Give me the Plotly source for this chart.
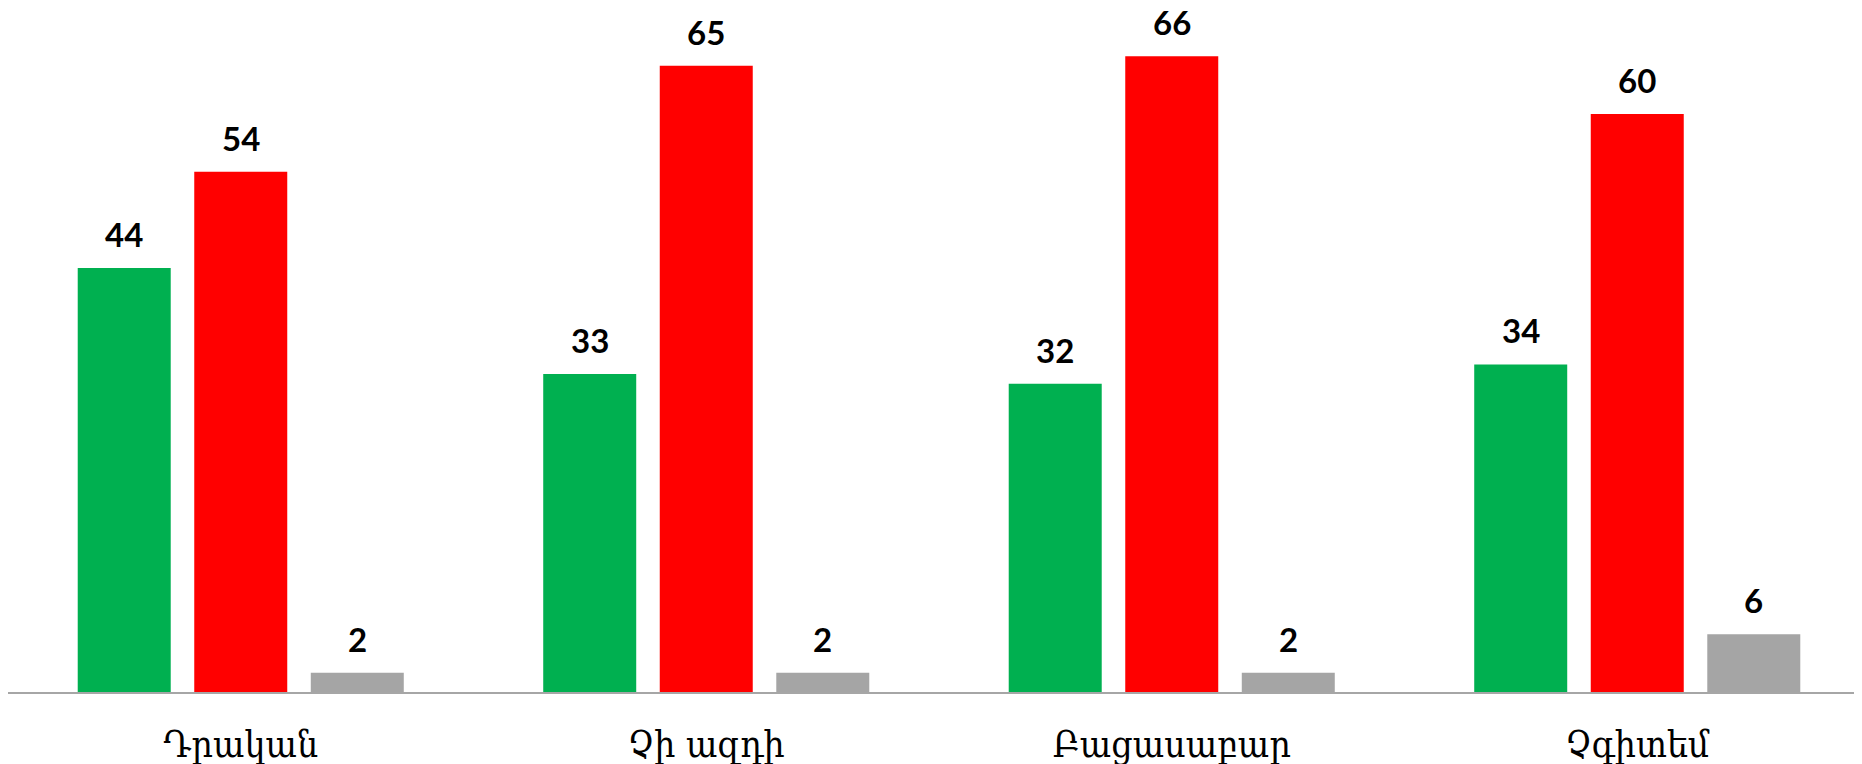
import plotly.graph_objects as go

categories = ['Դրական', 'Չի ազդի', 'Բացասաբար', 'Չգիտեմ']
series_names = ['Կանաչ', 'Կարմիր', 'Մոխրագույն']
green_vals = [44, 33, 32, 34]
red_vals = [54, 65, 66, 60]
gray_vals = [2, 2, 2, 6]

COLORS = ['#00B050', '#FF0000', '#A5A5A5']
BARGAP = 0.249
GROUPGAP = 0.202

series = [green_vals, red_vals, gray_vals]

fig = go.Figure()
for name, vals, color in zip(series_names, series, COLORS):
    fig.add_trace(go.Bar(
        x=categories,
        y=vals,
        name=name,
        marker_color=color,
        marker_line_width=0,
        hoverinfo='x+y',
    ))

# value labels sit a bit higher above the bars than plotly's own outside text
slot = (1 - BARGAP) / len(series)
for j, vals in enumerate(series):
    offset = (j - (len(series) - 1) / 2) * slot
    for i, v in enumerate(vals):
        fig.add_annotation(
            x=i + offset,
            y=v,
            text=str(v),
            showarrow=False,
            yanchor='middle',
            yshift=34,
            font=dict(family='Lato', size=33, color='black', weight='bold'),
        )

# the page body has an 8px margin, so the figure is nudged up/left to compensate
fig.update_layout(
    barmode='group',
    bargap=BARGAP,
    bargroupgap=GROUPGAP,
    showlegend=False,
    plot_bgcolor='white',
    paper_bgcolor='white',
    width=1862,
    height=764,
    margin=dict(l=0, r=0, t=0, b=80),
    xaxis=dict(
        range=[-0.5, 3.5],
        showline=True,
        linecolor='#A6A6A6',
        linewidth=2,
        ticks='',
        ticklabelstandoff=19,
        tickfont=dict(family='DejaVu Serif Condensed, DejaVu Serif', size=37, color='black'),
        showgrid=False,
    ),
    yaxis=dict(
        range=[0, 71.0],
        visible=False,
        showgrid=False,
    ),
)

fig.write_html('out.html')
